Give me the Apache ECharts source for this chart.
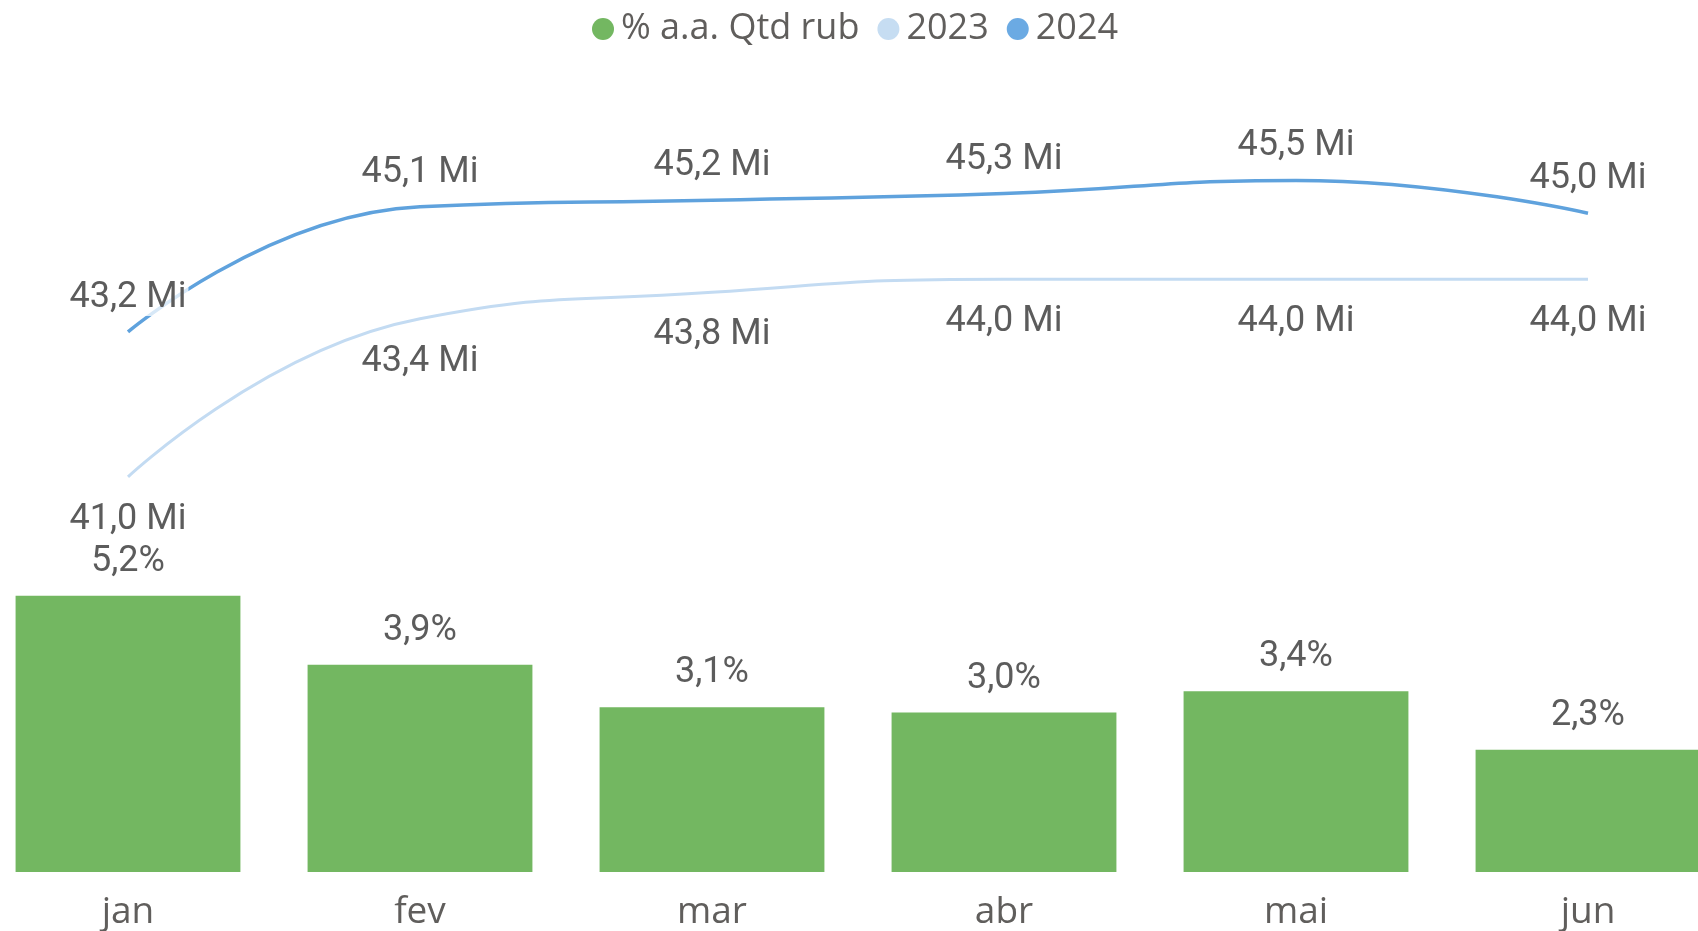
<!DOCTYPE html>
<html>
<head>
<meta charset="utf-8">
<script src="https://cdn.jsdelivr.net/npm/echarts@6/dist/echarts.min.js"></script>
<style>
html,body{margin:0;padding:0;background:#fff;overflow:hidden;width:1698px;height:931px;}
#chart{position:absolute;left:-18px;top:0;width:1752px;height:931px;}
</style>
</head>
<body>
<div id="chart"></div>
<script>
const categories = ['jan', 'fev', 'mar', 'abr', 'mai', 'jun'];
const pctRub = [5.2, 3.9, 3.1, 3.0, 3.4, 2.3];
const qtd2023 = [41.0, 43.4, 43.8, 44.0, 44.0, 44.0];
const qtd2024 = [43.2, 45.1, 45.2, 45.3, 45.5, 45.0];

const labelFont = 'Roboto';
const labelColor = '#5c5c5c';
const fmtMi = p => p.value.toFixed(1).replace('.', ',') + ' Mi';
const fmtPct = p => p.value.toFixed(1).replace('.', ',') + '%';

const chart = echarts.init(document.getElementById('chart'), null, {renderer: 'canvas'});
chart.setOption({
  animation: false,
  backgroundColor: '#fff',
  legend: {
    left: 605, top: 6,
    icon: 'circle',
    itemWidth: 22, itemHeight: 22, itemGap: 18,
    textStyle: {fontFamily: 'Open Sans', fontSize: 36, color: '#605E5C', padding: [0, 0, 0, 2]},
    data: ['% a.a. Qtd rub', '2023', '2024']
  },
  grid: {left: 0, right: 0, top: 75, bottom: 57, containLabel: false},
  xAxis: {
    type: 'category', data: categories,
    axisLine: {show: false}, axisTick: {show: false},
    axisLabel: {fontFamily: 'Open Sans', fontSize: 37, color: '#605E5C', margin: 22}
  },
  yAxis: [
    {type: 'value', min: 0, max: 15, show: false, splitLine: {show: false}},
    {type: 'value', min: 35, max: 47.1, show: false, splitLine: {show: false}}
  ],
  series: [
    {
      name: '% a.a. Qtd rub', type: 'bar', data: pctRub, yAxisIndex: 0,
      barCategoryGap: '23%',
      itemStyle: {color: '#73B761'},
      label: {show: true, position: 'top', distance: 16, formatter: fmtPct,
        fontFamily: labelFont, fontSize: 36, color: labelColor}
    },
    {
      name: '2023', type: 'line', data: qtd2023, yAxisIndex: 1,
      smooth: 0.5, symbol: 'circle', symbolSize: 0, showSymbol: true,
      lineStyle: {color: '#C3DBF2', width: 3},
      itemStyle: {color: '#C6DDF2'},
      label: {show: true, position: 'bottom', distance: 25, formatter: fmtMi,
        fontFamily: labelFont, fontSize: 36, color: labelColor,
        backgroundColor: 'rgba(255,255,255,0.75)', padding: [0, 2]}
    },
    {
      name: '2024', type: 'line', data: qtd2024, yAxisIndex: 1,
      smooth: 0.5, symbol: 'circle', symbolSize: 0, showSymbol: true,
      lineStyle: {color: '#5FA2DD', width: 3.5},
      itemStyle: {color: '#6BAAE3'},
      label: {show: true, position: 'top', distance: 16, formatter: fmtMi,
        fontFamily: labelFont, fontSize: 36, color: labelColor,
        backgroundColor: 'rgba(255,255,255,0.75)', padding: [0, 2]}
    }
  ]
});
</script>
</body>
</html>
